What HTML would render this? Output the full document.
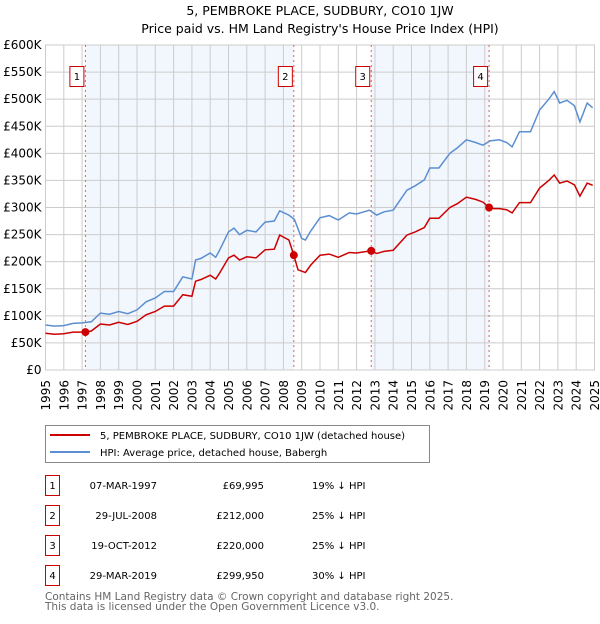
<!DOCTYPE html>
<html><head><meta charset="utf-8"><style>
body{margin:0;background:#fff;font-family:"DejaVu Sans","Liberation Sans",sans-serif;}
svg text{font-family:"DejaVu Sans","Liberation Sans",sans-serif;}
</style></head><body>
<svg width="600" height="620" xmlns="http://www.w3.org/2000/svg">
<text x="320" y="15" font-size="12.5" text-anchor="middle">5, PEMBROKE PLACE, SUDBURY, CO10 1JW</text>
<text x="320" y="33" font-size="12.5" text-anchor="middle">Price paid vs. HM Land Registry's House Price Index (HPI)</text>
<g id="shade"></g><g id="grid"></g><g id="axes"></g><g id="series"></g><g id="marks"></g>
<g>
<rect x="45.5" y="425.5" width="384" height="37" fill="#fff" stroke="#888"/>
<line x1="50" y1="435" x2="90" y2="435" stroke="#cc0000" stroke-width="2"/>
<text x="100" y="439" font-size="10">5, PEMBROKE PLACE, SUDBURY, CO10 1JW (detached house)</text>
<line x1="50" y1="452" x2="90" y2="452" stroke="#5b8fd1" stroke-width="2"/>
<text x="100" y="456" font-size="10">HPI: Average price, detached house, Babergh</text>
</g>
<g id="table" font-size="10"></g>
<text x="45" y="600" font-size="10.5" fill="#666">Contains HM Land Registry data © Crown copyright and database right 2025.</text>
<text x="45" y="610" font-size="10.5" fill="#666">This data is licensed under the Open Government Licence v3.0.</text>
</svg>
<script>
const hpiYears=[1995,1995.5,1996,1996.5,1997,1997.5,1998,1998.5,1999,1999.5,2000,2000.5,2001,2001.5,2002,2002.5,2003,2003.2,2003.5,2004,2004.3,2004.5,2005,2005.3,2005.6,2006,2006.5,2007,2007.5,2007.8,2008.3,2008.6,2009,2009.2,2009.5,2010,2010.5,2011,2011.6,2012,2012.7,2013.1,2013.5,2014,2014.75,2015.2,2015.7,2016,2016.5,2017.1,2017.5,2018,2018.5,2018.9,2019.3,2019.8,2020.2,2020.5,2020.9,2021.5,2022,2022.5,2022.8,2023.1,2023.5,2023.9,2024.2,2024.6,2024.9];
const hpiValues=[83,81,82,86,87,89,105,103,108,104,111,126,133,145,145,172,168,203,206,216,208,220,255,262,250,258,255,273,275,294,286,278,243,240,257,281,285,277,290,288,295,286,292,295,332,340,351,373,373,400,410,425,420,415,423,425,420,412,440,440,480,500,514,493,498,488,458,493,484];
const redYears=[1995,1995.5,1996,1996.5,1997,1997.18,1997.5,1998,1998.5,1999,1999.5,2000,2000.5,2001,2001.5,2002,2002.5,2003,2003.2,2003.5,2004,2004.3,2004.5,2005,2005.3,2005.6,2006,2006.5,2007,2007.5,2007.8,2008.3,2008.57,2008.8,2009.2,2009.5,2010,2010.5,2011,2011.6,2012,2012.8,2013.1,2013.5,2014,2014.75,2015.2,2015.7,2016,2016.5,2017.1,2017.5,2018,2018.5,2018.9,2019.24,2019.5,2019.8,2020.2,2020.5,2020.9,2021.5,2022,2022.5,2022.8,2023.1,2023.5,2023.9,2024.2,2024.6,2024.9];
const redValues=[68,66,67,70,70,70,72,85,83,88,84,90,102,108,118,118,139,136,164,167,175,168,178,207,212,203,209,207,222,223,249,240,212,185,180,194,212,214,208,217,216,220,215,219,221,249,255,263,280,280,300,307,319,315,310,300,298,298,296,290,309,309,336,350,360,345,349,342,321,345,341];
const saleYears=[1997.18,2008.57,2012.8,2019.24];
const saleValues=[69.995,212,220,299.95];
const saleLabels=["1","2","3","4"];
const saleDates=["07-MAR-1997","29-JUL-2008","19-OCT-2012","29-MAR-2019"];
const salePrices=["£69,995","£212,000","£220,000","£299,950"];
const saleDiffs=["19% ↓ HPI","25% ↓ HPI","25% ↓ HPI","30% ↓ HPI"];
const yTicks=[0,50,100,150,200,250,300,350,400,450,500,550,600];
const yTickLabels=["£0","£50K","£100K","£150K","£200K","£250K","£300K","£350K","£400K","£450K","£500K","£550K","£600K"];
const xTicks=[1995,1996,1997,1998,1999,2000,2001,2002,2003,2004,2005,2006,2007,2008,2009,2010,2011,2012,2013,2014,2015,2016,2017,2018,2019,2020,2021,2022,2023,2024,2025];
const NS="http://www.w3.org/2000/svg";
const X0=45.5,X1=594.5,Y0=370,Y1=45;
const xs=y=>X0+(y-1995)/30*(X1-X0);
const ys=v=>Y0-v/600*(Y0-Y1);
function mk(t,p,a){const e=document.createElementNS(NS,t);for(const k in a)e.setAttribute(k,a[k]);document.getElementById(p).appendChild(e);return e;}
for(let i=0;i<saleYears.length;i+=2){
 const r=mk('rect','shade',{x:xs(saleYears[i]),y:Y1,width:xs(saleYears[i+1])-xs(saleYears[i]),height:Y0-Y1,fill:'#f2f6fd'});
 
 
}
yTicks.forEach((v,i)=>{
 const l=mk('line','grid',{x1:X0,x2:X1,y1:ys(v),y2:ys(v),stroke:'#ccc','stroke-width':1});
 
 
 const t=mk('text','axes',{x:X0-4,y:ys(v)+4,'font-size':12,'text-anchor':'end'});
 t.textContent=yTickLabels[i];
 
 
});
xTicks.forEach(y=>{
 const l=mk('line','grid',{x1:xs(y),x2:xs(y),y1:Y1,y2:Y0,stroke:'#ccc','stroke-width':1});
 
 
 const tx=xs(y)+4.5,ty=Y0+10;
 const t=mk('text','axes',{x:tx,y:ty,'font-size':12,'text-anchor':'end',transform:`rotate(-90 ${tx} ${ty})`});
 t.textContent=y;
 
 
});
const fr=mk('rect','axes',{x:X0,y:Y1,width:X1-X0,height:Y0-Y1,fill:'none',stroke:'#ccc'});


function path(xa,va){return xa.map((y,i)=>(i?'L':'M')+xs(y).toFixed(1)+' '+ys(va[i]).toFixed(1)).join(' ');}
const hp=mk('path','series',{d:path(hpiYears,hpiValues),fill:'none',stroke:'#5b8fd1','stroke-width':1.5});


const rp=mk('path','series',{d:path(redYears,redValues),fill:'none',stroke:'#cc0000','stroke-width':1.5});


saleYears.forEach((y,i)=>{
 const l=mk('line','marks',{x1:xs(y),x2:xs(y),y1:Y1,y2:Y0,stroke:'#e06060','stroke-dasharray':'2,3','stroke-width':1});
 
 
 const c=mk('circle','marks',{cx:xs(y),cy:ys(saleValues[i]),r:4,fill:'#cc0000'});
 
 
 const b=mk('rect','marks',{x:xs(y)-15.5,y:66.5,width:14,height:20,fill:'#fff',stroke:'#cc0000'});
 
 
 const t=mk('text','marks',{x:xs(y)-8.5,y:80,'font-size':10,'text-anchor':'middle'});
 t.textContent=saleLabels[i];
 
 
});
saleLabels.forEach((s,i)=>{
 const yy=475+i*30;
 const b=mk('rect','table',{x:45.5,y:yy+0.5,width:14,height:20,fill:'#fff',stroke:'#cc0000'});
 
 
 const vals=[[s,52.5,'middle'],[saleDates[i],157,'end'],[salePrices[i],264,'end'],[saleDiffs[i],312,'start']];
 vals.forEach(v=>{
  const t=mk('text','table',{x:v[1],y:yy+14,'text-anchor':v[2]});
  t.textContent=v[0];
  
  
 });
});
</script>
</body></html>
